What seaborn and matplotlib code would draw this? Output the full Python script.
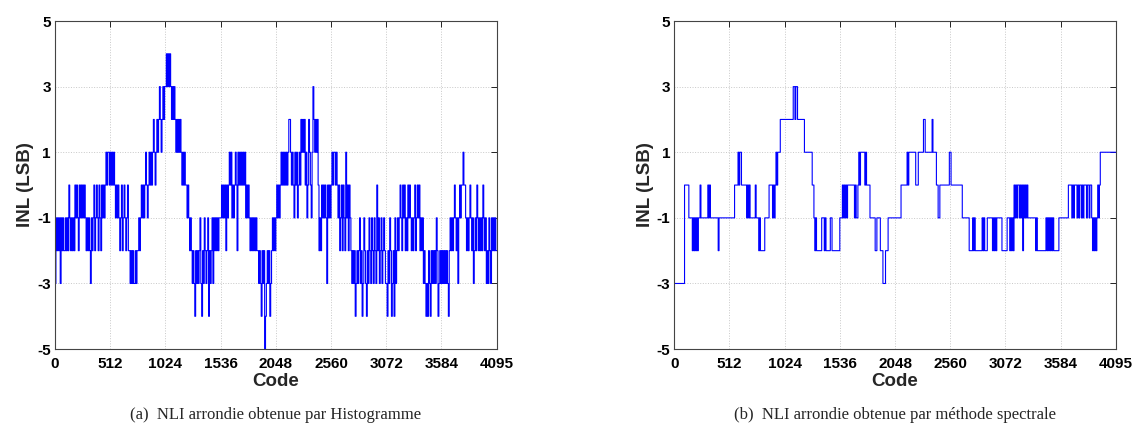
import numpy as np
import pandas as pd
import seaborn as sns
import matplotlib.pyplot as plt

# rounded INL, one value per block of 8 codes
# each row covers 256 codes (32 blocks), 16 rows -> codes 0..4095
inl_hist = [
    [-3, -1, -2, -1, -2, -1, -3, -1, -2, -1, -2, -2, -1, -2, -1, -2, 0, -1, -2, -1, -2, -1, -2, 0, -1, 0, -1, -2, 0, -1, 0, -1],
    [0, -1, 0, -1, -2, -1, -2, -1, -2, -3, -1, -2, -1, 0, -2, -1, 0, -1, -2, 0, -1, -2, 0, -1, 0, -1, 0, 1, 0, 1, 1, 0],
    [1, 0, 1, 0, 1, 0, -1, 0, -1, 0, -1, -2, -1, 0, -2, -1, 0, -1, -2, -1, 0, -2, -2, -3, -2, -3, -2, -3, -3, -2, -3, -2],
    [-2, -1, -2, -1, 0, -1, 0, -1, 0, 1, 0, -1, 0, 1, 0, 1, 0, 1, 2, 1, 0, 1, 2, 1, 2, 3, 2, 1, 2, 3, 2, 3],
    [3, 4, 3, 4, 3, 4, 3, 2, 3, 2, 3, 2, 1, 2, 1, 2, 1, 2, 1, 0, 1, 0, 1, 0, 0, -1, 0, -1, -2, -1, -2, -3],
    [-2, -3, -4, -2, -3, -2, -3, -2, -1, -3, -4, -2, -3, -1, -2, -3, -2, -1, -4, -2, -3, -2, -1, -3, -1, -2, -1, -2, -1, -2, -1, -1],
    [-1, 0, -1, 0, -1, 0, -2, 0, -1, 0, 1, 0, 1, -1, 0, -1, 0, 1, 0, -2, 1, 0, 1, 0, 1, 0, 1, 0, 1, -1, 0, -1],
    [0, -1, -2, -1, -2, -1, -2, -1, -2, -1, -2, -2, -3, -2, -3, -4, -2, -3, -2, -5, -4, -3, -2, -3, -2, -4, -3, -2, -1, -2, -1, -2],
    [-1, 0, -1, 0, -1, 0, 1, 0, 1, 0, 1, 0, 1, 0, 1, 2, 2, 1, 0, 1, 0, -1, 1, 0, 1, -1, 0, 1, 0, 2, 1, 2],
    [1, 2, 0, 1, -1, 0, 2, 1, 0, -1, 1, 3, 2, 1, 2, 1, 2, 0, -2, -1, -2, 0, -1, 0, -1, 0, -1, -3, 0, -1, 0, -1],
    [0, 1, 0, 1, 1, 0, 1, 0, -1, 0, -2, -1, 0, -2, 0, -1, -2, 1, -1, 0, -2, 0, -1, -2, -3, -2, -3, -2, -4, -3, -2, -3],
    [-2, -1, -3, -2, -4, -3, -1, -2, -3, -4, -2, -3, -1, -2, -3, -1, -2, -3, -1, -2, -3, 0, -2, -1, -3, -2, -1, -3, -2, -1, -2, -3],
    [-3, -4, -2, -3, -1, -2, -4, -3, -2, -4, -1, -3, -2, -1, -2, -1, 0, -1, -2, 0, -1, 0, -2, -1, -2, 0, -1, 0, -1, -2, -1, -2],
    [-1, 0, -2, -1, 0, -1, 0, -2, -1, -2, -1, -3, -2, -3, -4, -3, -4, -2, -3, -4, -2, -3, -2, -3, -2, -3, -1, -2, -4, -3, -2, -3],
    [-2, -3, -2, -3, -2, -3, -2, -3, -4, -2, -1, -2, -1, -2, -1, 0, -1, -2, -1, -3, -1, 0, -1, 0, 0, 1, 0, 0, -1, -2, -1, -2],
    [-1, 0, -1, -2, -1, -3, -2, -1, -2, 0, -1, -2, -1, -2, -1, -2, 0, -1, -2, -1, -3, -2, -3, -1, -2, -3, -1, -2, -1, -2, -1, -2],
]

inl_spec = [
    [-3, -3, -3, -3, -3, -3, -3, -3, -3, -3, -3, -3, 0, 0, 0, 0, 0, -1, -1, -1, -1, -2, -1, -2, -1, -2, -1, -2, -1, -1, 0, -1],
    [-1, -1, -1, -1, -1, -1, -1, 0, -1, 0, -1, -1, -1, -1, -1, -1, -1, -1, -1, -2, -1, -1, -1, -1, -1, -1, -1, -1, -1, -1, -1, -1],
    [-1, -1, -1, -1, -1, -1, 0, 0, 0, 0, 1, 0, 1, 1, 0, 0, 0, 0, 0, 0, -1, 0, -1, 0, -1, -1, -1, -1, -1, -1, 0, -1],
    [-1, -1, -2, -1, -2, -2, -2, -2, -2, -1, -1, -1, -1, -1, 0, 0, 0, 0, -1, 0, -1, 0, 1, 0, 1, 1, 1, 2, 2, 2, 2, 2],
    [2, 2, 2, 2, 2, 2, 2, 2, 2, 2, 3, 3, 2, 3, 3, 2, 2, 2, 2, 2, 2, 2, 2, 1, 1, 1, 1, 1, 1, 1, 1, 1],
    [0, 0, -1, -2, -1, -2, -2, -2, -2, -2, -2, -1, -1, -1, -2, -1, -2, -2, -2, -2, -2, -1, -1, -2, -2, -2, -2, -2, -2, -2, -2, -2],
    [-1, -1, -1, 0, -1, 0, -1, 0, -1, 0, 0, 0, 0, 0, 0, 0, 0, -1, 0, -1, -1, 0, 1, 0, 1, 1, 1, 1, 1, 0, 1, 0],
    [0, 0, 0, -1, -1, -1, -1, -1, -1, -2, -2, -1, -1, -1, -1, -2, -2, -2, -3, -3, -3, -2, -2, -2, -1, -1, -1, -1, -1, -1, -1, -1],
    [-1, -1, -1, -1, -1, -1, -1, 0, 0, 0, 0, 0, 0, 0, 1, 0, 1, 1, 1, 1, 1, 1, 1, 1, 0, 0, 0, 1, 1, 1, 1, 1],
    [1, 2, 2, 1, 1, 1, 1, 1, 1, 1, 1, 2, 1, 1, 1, 1, 0, 0, -1, -1, 0, 0, 0, 0, 0, 0, 0, 0, 0, 0, 0, 1],
    [1, 0, 0, 0, 0, 0, 0, 0, 0, 0, 0, 0, 0, 0, -1, -1, -1, -1, -1, -1, -1, -1, -2, -2, -2, -2, -1, -2, -1, -2, -2, -2],
    [-2, -2, -2, -2, -2, -1, -2, -1, -2, -2, -2, -1, -1, -1, -1, -1, -1, -2, -1, -2, -1, -2, -1, -1, -1, -1, -1, -1, -2, -2, -2, -2],
    [-2, -2, -1, -1, -1, -2, -1, -2, -1, -2, 0, -1, 0, -1, 0, 0, -1, 0, -1, 0, -2, 0, -1, 0, -1, 0, -1, -1, -1, -1, -1, -1],
    [-1, -1, -1, -2, -1, -2, -2, -2, -2, -2, -2, -2, -2, -2, -2, -1, -2, -1, -2, -1, -2, -1, -2, -1, -2, -2, -2, -2, -2, -2, -1, -1],
    [-1, -1, -1, -1, -1, -1, -1, -1, -1, 0, 0, 0, 0, -1, 0, -1, 0, 0, 0, -1, 0, -1, 0, 0, -1, 0, -1, 0, 0, 0, -1, 0],
    [0, -1, 0, 0, -1, -2, -1, -2, -1, -2, -1, 0, -1, 0, 1, 1, 1, 1, 1, 1, 1, 1, 1, 1, 1, 1, 1, 1, 1, 1, 1, 1],
]

code_ticks = [0, 512, 1024, 1536, 2048, 2560, 3072, 3584, 4095]
inl_ticks = [-5, -3, -1, 1, 3, 5]
captions = ["(a)  NLI arrondie obtenue par Histogramme",
            "(b)  NLI arrondie obtenue par méthode spectrale"]

BLOCK = 8


def to_frame(rows):
    vals = np.concatenate([np.array(r) for r in rows])
    codes = np.arange(len(vals)) * BLOCK
    # repeat the last value at the final code so the step reaches 4095
    codes = np.append(codes, 4095)
    vals = np.append(vals, vals[-1])
    return pd.DataFrame({"Code": codes, "INL": vals})


sns.set_theme(style="white")
plt.rcParams["font.family"] = ["Liberation Sans", "DejaVu Sans"]
plt.rcParams["axes.unicode_minus"] = False

fig = plt.figure(figsize=(11.35, 4.38), dpi=100)
ax_a = fig.add_axes([0.0485, 0.203, 0.389, 0.749])
ax_b = fig.add_axes([0.594, 0.203, 0.389, 0.749])

for ax, rows, cap in [(ax_a, inl_hist, captions[0]), (ax_b, inl_spec, captions[1])]:
    df = to_frame(rows)
    sns.lineplot(data=df, x="Code", y="INL", ax=ax, estimator=None,
                 drawstyle="steps-post", color="#0000ff", linewidth=0.8)
    ax.set_xlim(0, 4095)
    ax.set_ylim(-5, 5)
    ax.set_xticks(code_ticks)
    ax.set_yticks(inl_ticks)
    ax.grid(True, color="#c8c8c8", linestyle=":", linewidth=0.7)
    ax.set_axisbelow(True)
    ax.tick_params(direction="in", length=4, width=0.7, top=True, right=True,
                   labelsize=11, colors="#222222", labelcolor="black")
    ax.tick_params(axis="x", pad=6)
    ax.tick_params(axis="y", pad=3)
    for lab in ax.get_xticklabels() + ax.get_yticklabels():
        lab.set_fontweight("bold")
    for sp in ax.spines.values():
        sp.set_color("#444444")
        sp.set_linewidth(0.8)
    ax.set_xlabel("Code", fontsize=13.5, fontweight="bold", labelpad=1)
    ax.set_ylabel("INL (LSB)", fontsize=13.5, fontweight="bold", labelpad=2)
    ax.text(0.5, -0.2, cap, transform=ax.transAxes, ha="center", va="center",
            fontsize=12, family=["Liberation Serif", "DejaVu Serif"])

fig.savefig("out.png", dpi=100)
